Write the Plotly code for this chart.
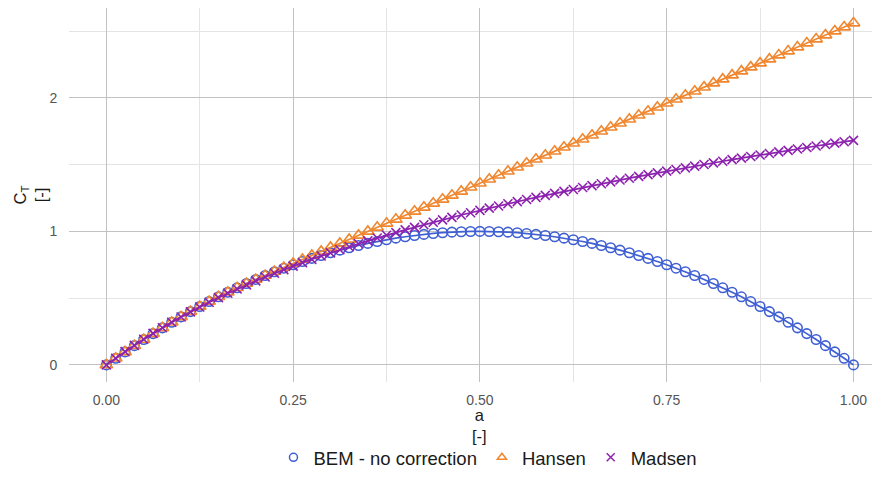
import plotly.graph_objects as go

# axial induction factor a, step 0.0125 (81 points)
a_values = [round(k * 0.0125, 4) for k in range(81)]

ct_bem = [
    0.0, 0.0494, 0.0975, 0.1444, 0.19, 0.2344, 0.2775, 0.3194, 0.36, 0.3994,
    0.4375, 0.4744, 0.51, 0.5444, 0.5775, 0.6094, 0.64, 0.6694, 0.6975, 0.7244,
    0.75, 0.7744, 0.7975, 0.8194, 0.84, 0.8594, 0.8775, 0.8944, 0.91, 0.9244,
    0.9375, 0.9494, 0.96, 0.9694, 0.9775, 0.9844, 0.99, 0.9944, 0.9975, 0.9994,
    1.0, 0.9994, 0.9975, 0.9944, 0.99, 0.9844, 0.9775, 0.9694, 0.96, 0.9494,
    0.9375, 0.9244, 0.91, 0.8944, 0.8775, 0.8594, 0.84, 0.8194, 0.7975, 0.7744,
    0.75, 0.7244, 0.6975, 0.6694, 0.64, 0.6094, 0.5775, 0.5444, 0.51, 0.4744,
    0.4375, 0.3994, 0.36, 0.3194, 0.2775, 0.2344, 0.19, 0.1444, 0.0975, 0.0494,
    0.0,
]

ct_hansen = [
    0.0, 0.0494, 0.0975, 0.1444, 0.19, 0.2344, 0.2775, 0.3194, 0.36, 0.3994,
    0.4375, 0.4744, 0.51, 0.5444, 0.5775, 0.6094, 0.64, 0.67, 0.70, 0.73,
    0.76, 0.79, 0.82, 0.85, 0.88, 0.91, 0.94, 0.97, 1.00, 1.03,
    1.06, 1.09, 1.12, 1.15, 1.18, 1.21, 1.24, 1.27, 1.30, 1.33,
    1.36, 1.39, 1.42, 1.45, 1.48, 1.51, 1.54, 1.57, 1.60, 1.63,
    1.66, 1.69, 1.72, 1.75, 1.78, 1.81, 1.84, 1.87, 1.90, 1.93,
    1.96, 1.99, 2.02, 2.05, 2.08, 2.11, 2.14, 2.17, 2.20, 2.23,
    2.26, 2.29, 2.32, 2.35, 2.38, 2.41, 2.44, 2.47, 2.50, 2.53,
    2.56,
]

ct_madsen = [
    0.0, 0.0502, 0.0990, 0.1462, 0.1918, 0.2359, 0.2784, 0.3194, 0.3590, 0.3972,
    0.4337, 0.4690, 0.5034, 0.5363, 0.5682, 0.5993, 0.6289, 0.6581, 0.6861, 0.7134,
    0.7400, 0.7657, 0.7909, 0.8153, 0.8392, 0.8624, 0.8851, 0.9073, 0.9288, 0.9503,
    0.9708, 0.9912, 1.0110, 1.0304, 1.0498, 1.0682, 1.0867, 1.1049, 1.1224, 1.1399,
    1.1571, 1.1738, 1.1904, 1.2068, 1.2227, 1.2385, 1.2542, 1.2693, 1.2845, 1.2996,
    1.3141, 1.3285, 1.3429, 1.3570, 1.3708, 1.3845, 1.3983, 1.4115, 1.4247, 1.4378,
    1.4509, 1.4635, 1.4760, 1.4886, 1.5011, 1.5131, 1.5251, 1.5371, 1.5491, 1.5607,
    1.5722, 1.5836, 1.5951, 1.6063, 1.6173, 1.6284, 1.6394, 1.6503, 1.6609, 1.6714,
    1.6820,
]

series_names = ["BEM - no correction", "Hansen", "Madsen"]
x_ticks = [0.0, 0.25, 0.5, 0.75, 1.0]
x_tick_labels = ["0.00", "0.25", "0.50", "0.75", "1.00"]
y_ticks = [0, 1, 2]
y_tick_labels = ["0", "1", "2"]

colors = ["#3f5fd3", "#f0872f", "#8c22ae"]
symbols = ["circle-open", "triangle-up-open", "x-thin-open"]
sizes = [9.5, 11, 9]
series = [ct_bem, ct_hansen, ct_madsen]

FONT = "Liberation Sans, Arial, sans-serif"

fig = go.Figure()
for name, ys, col, sym, sz in zip(series_names, series, colors, symbols, sizes):
    fig.add_trace(go.Scatter(
        x=a_values, y=ys, mode="lines+markers", name=name, showlegend=False,
        line=dict(color=col, width=1.7),
        marker=dict(symbol=sym, size=sz, color=col, line=dict(color=col, width=1.6)),
    ))
# legend entries (marker only, as in the reference key)
for name, col, sym in zip(series_names, colors, symbols):
    fig.add_trace(go.Scatter(
        x=[None], y=[None], mode="markers", name=name, showlegend=True,
        marker=dict(symbol=sym, size=8, color=col, line=dict(color=col, width=1.5)),
    ))

# the page adds an 8px body margin: the figure is sized to the visible area
fig.update_layout(
    width=872, height=469,
    margin=dict(l=61, r=0, t=0, b=89),
    paper_bgcolor="white", plot_bgcolor="white",
    font=dict(family=FONT, color="#1a1a1a"),
    showlegend=True,
    legend=dict(
        orientation="h", x=0.5166, xanchor="center", y=-0.2026, yanchor="middle",
        font=dict(size=18.5, color="#1a1a1a", family=FONT),
        itemwidth=30, tracegroupgap=0, bgcolor="rgba(0,0,0,0)",
    ),
    xaxis=dict(
        range=[-0.05, 1.0355], tickvals=x_ticks, ticktext=x_tick_labels,
        showgrid=True, gridcolor="#c2c2c2", gridwidth=1,
        minor=dict(dtick=0.125, tick0=0, showgrid=True, gridcolor="#e4e4e4", gridwidth=1),
        zeroline=False, showline=False,
        ticks="outside", ticklen=5, tickcolor="rgba(0,0,0,0)",
        tickfont=dict(size=14, color="#555555", family=FONT),
    ),
    yaxis=dict(
        range=[-0.128, 2.673], tickvals=y_ticks, ticktext=y_tick_labels,
        showgrid=True, gridcolor="#c2c2c2", gridwidth=1,
        minor=dict(dtick=0.5, tick0=0, showgrid=True, gridcolor="#e4e4e4", gridwidth=1),
        zeroline=False, showline=False,
        ticks="outside", ticklen=8, tickcolor="rgba(0,0,0,0)",
        tickfont=dict(size=14, color="#555555", family=FONT),
    ),
    annotations=[
        dict(text="a<br>[-]", xref="x", yref="paper", x=0.5, y=-0.1158,
             xanchor="center", yanchor="middle", showarrow=False,
             font=dict(size=16.5, color="#1a1a1a", family=FONT)),
        dict(text="C<sub>T</sub><br>[-]", xref="paper", yref="paper",
             x=-0.0487, y=0.5, xanchor="center", yanchor="middle",
             textangle=-90, showarrow=False,
             font=dict(size=16.5, color="#1a1a1a", family=FONT)),
    ],
)

fig.write_html("out.html")
